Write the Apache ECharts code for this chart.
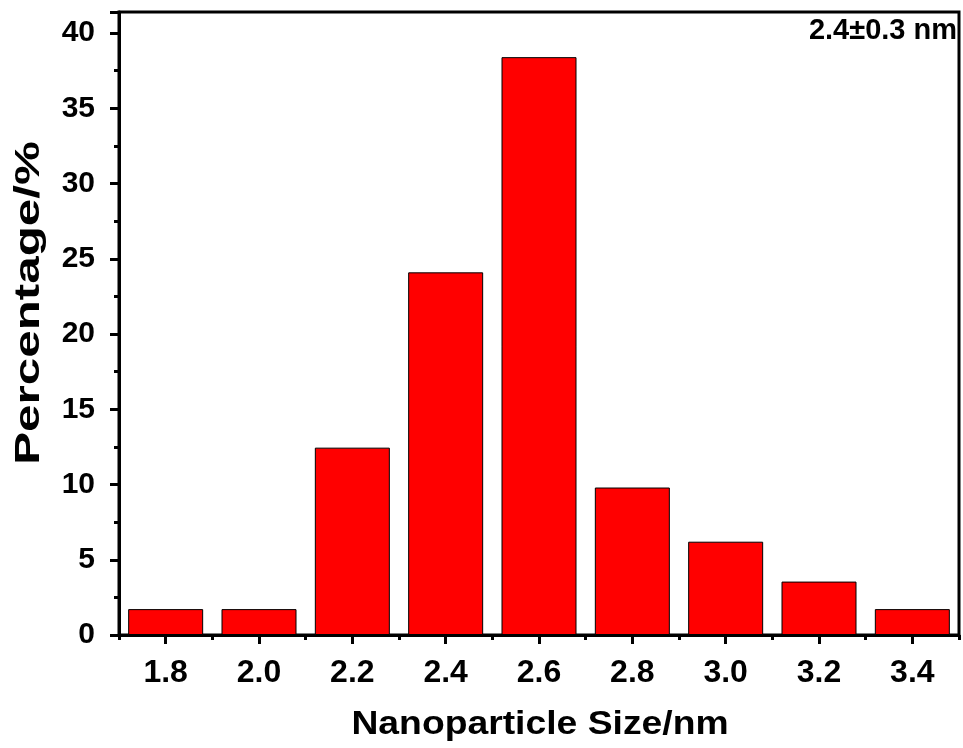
<!DOCTYPE html>
<html>
<head>
<meta charset="utf-8">
<script src="https://cdn.jsdelivr.net/npm/echarts@6/dist/echarts.min.js"></script>
<style>
  html, body { margin: 0; padding: 0; background: #fff; }
  #chart { width: 963px; height: 748px; }
</style>
</head>
<body>
<div id="chart"></div>
<script>
// bin centres (nm) and percentage in each bin
const sizes = ['1.8', '2.0', '2.2', '2.4', '2.6', '2.8', '3.0', '3.2', '3.4']
const percent = [1.72, 1.72, 12.45, 24.1, 38.4, 9.8, 6.2, 3.55, 1.72]
const yTicks = [0, 5, 10, 15, 20, 25, 30, 35, 40]
const xTitle = 'Nanoparticle Size/nm'
const yTitle = 'Percentage/%'
const note = '2.4\u00b10.3 nm'

const font = '"Liberation Sans", Arial, sans-serif'
const chart = echarts.init(document.getElementById('chart'))

const options = {
	animation: false,
	backgroundColor: '#fff',
	grid: {
		left: 119,
		right: 4,
		top: 12,
		bottom: 113,
		containLabel: false,
		outerBoundsMode: 'none',
		show: true,
		borderColor: '#000',
		borderWidth: 3
	},
	xAxis: [
		{
			// boundary ticks between bins
			type: 'category',
			data: sizes,
			position: 'bottom',
			axisLine: { lineStyle: { color: '#000', width: 3 } },
			axisTick: { show: true, length: 5, lineStyle: { color: '#000', width: 3 } },
			axisLabel: { show: false },
			splitLine: { show: false }
		},
		{
			// centre ticks with labels
			type: 'category',
			data: sizes,
			position: 'bottom',
			axisLine: { show: false },
			axisTick: { show: true, alignWithLabel: true, length: 9, lineStyle: { color: '#000', width: 3 } },
			axisLabel: { fontFamily: font, fontWeight: 'bold', fontSize: 32, color: '#000', margin: 22 },
			splitLine: { show: false }
		}
	],
	yAxis: {
		type: 'value',
		min: 0,
		max: 41.4,
		interval: 5,
		axisLine: { show: true, lineStyle: { color: '#000', width: 3 } },
		axisTick: { show: true, length: 9, lineStyle: { color: '#000', width: 3 } },
		minorTick: { show: true, splitNumber: 2, length: 5, lineStyle: { color: '#000', width: 3 } },
		axisLabel: {
			fontFamily: font,
			fontWeight: 'bold',
			fontSize: 30,
			color: '#000',
			margin: 24,
			showMaxLabel: false,
			formatter: (v) => (yTicks.indexOf(v) >= 0 ? String(v) : '')
		},
		splitLine: { show: false }
	},
	series: [
		{
			type: 'bar',
			xAxisIndex: 0,
			data: percent,
			barWidth: 75,
			itemStyle: { color: '#ff0000', borderColor: '#000', borderWidth: 1 }
		}
	],
	graphic: [
		{
			type: 'text',
			x: 957,
			y: 31,
			style: {
				text: note, fontFamily: font, fontWeight: 'bold', fontSize: 29, fill: '#000',
				align: 'right', verticalAlign: 'middle'
			}
		},
		{
			// x axis title
			type: 'text',
			x: 540,
			y: 725,
			scaleX: 1.13,
			style: {
				text: xTitle, fontFamily: font, fontWeight: 'bold', fontSize: 33, fill: '#000',
				align: 'center', verticalAlign: 'middle'
			}
		},
		{
			// y axis title
			type: 'text',
			x: 29,
			y: 303,
			rotation: Math.PI / 2,
			scaleX: 1.41,
			style: {
				text: yTitle, fontFamily: font, fontWeight: 'bold', fontSize: 35, fill: '#000',
				align: 'center', verticalAlign: 'middle'
			}
		}
	]
}

chart.setOption(options)
</script>
</body>
</html>
